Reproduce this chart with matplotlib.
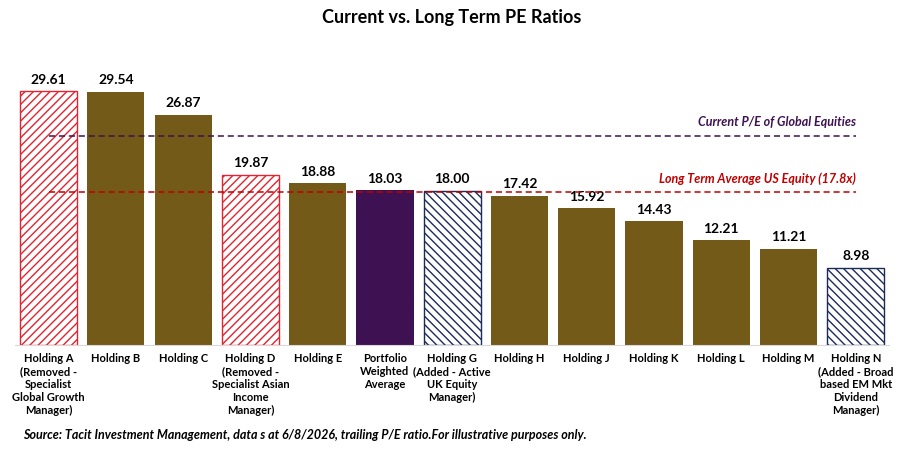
import matplotlib
matplotlib.use("Agg")
from matplotlib import pyplot as plt

plt.rcParams['font.family'] = ['Lato', 'DejaVu Sans']
plt.rcParams['hatch.linewidth'] = 1.0

labels = [
    "Holding A\n(Removed -\nSpecialist\nGlobal Growth\nManager)",
    "Holding B",
    "Holding C",
    "Holding D\n(Removed -\nSpecialist Asian\nIncome\nManager)",
    "Holding E",
    "Portfolio\nWeighted\nAverage",
    "Holding G\n(Added - Active\nUK Equity\nManager)",
    "Holding H",
    "Holding J",
    "Holding K",
    "Holding L",
    "Holding M",
    "Holding N\n(Added - Broad\nbased EM Mkt\nDividend\nManager)",
]
pe_values = [29.61, 29.54, 26.87, 19.87, 18.88, 18.03, 18.00, 17.42, 15.92, 14.43, 12.21, 11.21, 8.98]
kinds = ["removed", "held", "held", "removed", "held", "portfolio", "added",
         "held", "held", "held", "held", "held", "added"]

global_pe = 24.4
us_long_term = 17.8

brown = "#735A18"
purple = "#3E1152"
red = "#E3242F"
navy = "#1C2B5A"

fig = plt.figure(figsize=(9.03, 4.51), dpi=100)
ax = fig.add_axes([0.0166, 0.235, 0.9684, 0.6275])

x = list(range(len(pe_values)))
for i, (v, k) in enumerate(zip(pe_values, kinds)):
    if k == "held":
        ax.bar(i, v, width=0.85, color=brown, zorder=2)
    elif k == "portfolio":
        ax.bar(i, v, width=0.85, color=purple, zorder=2)
    elif k == "removed":
        ax.bar(i, v, width=0.85, color="white", edgecolor=red, hatch="////",
               linewidth=1.0, zorder=2)
    else:
        ax.bar(i, v, width=0.85, color="white", edgecolor=navy, hatch="\\\\\\\\",
               linewidth=1.0, zorder=2)
    ax.text(i, v + 0.65, f"{v:.2f}", ha="center", va="bottom",
            fontsize=10, fontweight="bold", color="black")

ax.plot([0, 12], [global_pe, global_pe], color=purple, linestyle=(0, (4, 2.5)),
        linewidth=1.1, zorder=3)
ax.plot([0, 12], [us_long_term, us_long_term], color="#C00000", linestyle=(0, (4, 2.5)),
        linewidth=1.1, zorder=3)
ax.text(12, global_pe + 0.9, "Current P/E of Global Equities", ha="right", va="bottom",
        fontsize=9, fontweight="bold", style="italic", color=purple)
ax.text(12, us_long_term + 0.9, "Long Term Average US Equity (17.8x)", ha="right", va="bottom",
        fontsize=9, fontweight="bold", style="italic", color="#C00000")

ax.set_xlim(-0.5, 12.5)
ax.set_ylim(0, 33)
ax.set_xticks(x)
ax.set_xticklabels(labels, fontsize=8, fontweight="bold", linespacing=1.2)
ax.tick_params(axis="x", length=0, pad=6)
ax.set_yticks([])
for s in ["top", "right", "left"]:
    ax.spines[s].set_visible(False)
ax.spines["bottom"].set_color("#D9D9D9")

fig.text(0.5, 0.962, "Current vs. Long Term PE Ratios", ha="center", va="center",
         fontsize=13, fontweight="bold")
fig.text(0.025, 0.035, "Source: Tacit Investment Management, data s at 6/8/2026, trailing P/E ratio.For illustrative purposes only.",
         ha="left", va="center", fontsize=9, fontweight="bold", style="italic")

fig.savefig("out.png", dpi=100)
